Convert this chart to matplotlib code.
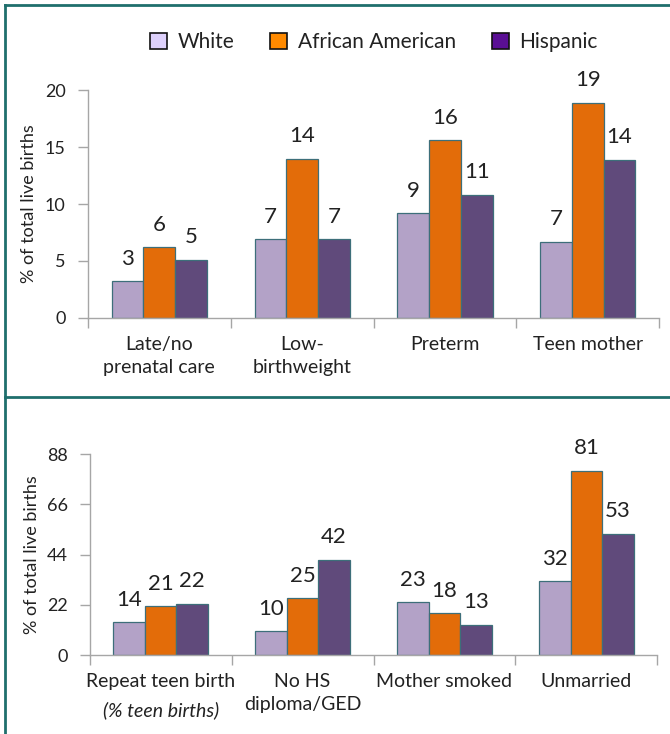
import matplotlib
matplotlib.use('Agg')
import matplotlib.pyplot as plt
from matplotlib.patches import Patch
from matplotlib.lines import Line2D
import numpy as np

plt.rcParams['font.family'] = ['Lato', 'DejaVu Sans']

series_names = ['White', 'African American', 'Hispanic']

# Birth outcomes (% of total live births)
categories_top = ['Late/no\nprenatal care', 'Low-\nbirthweight', 'Preterm', 'Teen mother']
white_top = [3.2, 6.9, 9.2, 6.7]
afam_top = [6.2, 14.0, 15.6, 18.9]
hisp_top = [5.1, 6.9, 10.8, 13.9]
yticks_top = [0, 5, 10, 15, 20]

# Maternal characteristics
categories_bottom = ['Repeat teen birth', 'No HS\ndiploma/GED', 'Mother smoked', 'Unmarried']
notes_bottom = ['(% teen births)', '', '', '']
white_bottom = [14.3, 10.4, 23.0, 32.3]
afam_bottom = [21.4, 24.8, 18.2, 80.6]
hisp_bottom = [22.4, 41.7, 13.3, 53.0]
yticks_bottom = [0, 22, 44, 66, 88]

bar_colors = ['#b3a2c7', '#e36c09', '#604a7b']
legend_colors = ['#ddd0fb', '#ff8a00', '#5a0f94']
edge_color = '#3d6f7a'
axis_color = '#a6a6a6'
text_color = '#222222'
frame_color = '#1f6f6d'


def draw_panel(ax, categories, series, yticks, notes=None):
    x = np.arange(len(categories))
    width = 0.222
    offsets = [-width, 0, width]
    for vals, off, col in zip(series, offsets, bar_colors):
        bars = ax.bar(x + off, vals, width, color=col, edgecolor=edge_color,
                      linewidth=0.9, zorder=2)
        for b, v in zip(bars, vals):
            ax.annotate('%.0f' % v, (b.get_x() + b.get_width() / 2, v),
                        xytext=(0, 9), textcoords='offset points',
                        ha='center', va='bottom', fontsize=16, color=text_color)

    ax.set_xlim(-0.5, len(categories) - 0.5)
    ax.set_ylim(yticks[0], yticks[-1])
    ax.set_yticks(yticks)
    ax.set_xticks(x)
    ax.set_xticklabels(categories, fontsize=14, color=text_color,
                       linespacing=1.45, va='top')
    ax.set_xticks(np.arange(len(categories) + 1) - 0.5, minor=True)
    ax.tick_params(axis='x', which='major', length=0, pad=13)
    ax.tick_params(axis='x', which='minor', length=7, color=axis_color, width=1)
    ax.tick_params(axis='y', length=7, color=axis_color, width=1, pad=9,
                   labelsize=13, labelcolor=text_color)

    for side in ['top', 'right']:
        ax.spines[side].set_visible(False)
    for side in ['left', 'bottom']:
        ax.spines[side].set_color(axis_color)
        ax.spines[side].set_linewidth(1)

    ax.set_ylabel('% of total live births', fontsize=13, color=text_color)
    ax.yaxis.set_label_coords(-0.088, 0.5)

    if notes:
        for i, note in enumerate(notes):
            if note:
                ax.annotate(note, (i, 0), xycoords=('data', 'axes fraction'),
                            xytext=(0, -33), textcoords='offset points',
                            ha='center', va='top', fontsize=14,
                            style='italic', color=text_color)


fig = plt.figure(figsize=(6.7, 7.34), dpi=100)

ax_top = fig.add_axes([0.131, 0.567, 0.853, 0.310])
draw_panel(ax_top, categories_top, [white_top, afam_top, hisp_top], yticks_top)

ax_bot = fig.add_axes([0.134, 0.1076, 0.847, 0.2738])
draw_panel(ax_bot, categories_bottom, [white_bottom, afam_bottom, hisp_bottom],
           yticks_bottom, notes_bottom)

handles = [Patch(facecolor=c, edgecolor='#111111', linewidth=1.2, label=n)
           for c, n in zip(legend_colors, series_names)]
fig.legend(handles=handles, loc='center', bbox_to_anchor=(0.558, 0.943),
           ncol=3, frameon=False, fontsize=15, handlelength=0.8,
           handleheight=0.8, handletextpad=0.5, columnspacing=1.75,
           labelcolor=text_color)

# Panel frames
fig.add_artist(Line2D([0.007, 1.0], [0.993, 0.993], color=frame_color, lw=2))
fig.add_artist(Line2D([0.007, 0.007], [0.0, 0.993], color=frame_color, lw=2))
fig.add_artist(Line2D([0.007, 1.0], [0.459, 0.459], color=frame_color, lw=2))

fig.savefig('out.png', dpi=100)
